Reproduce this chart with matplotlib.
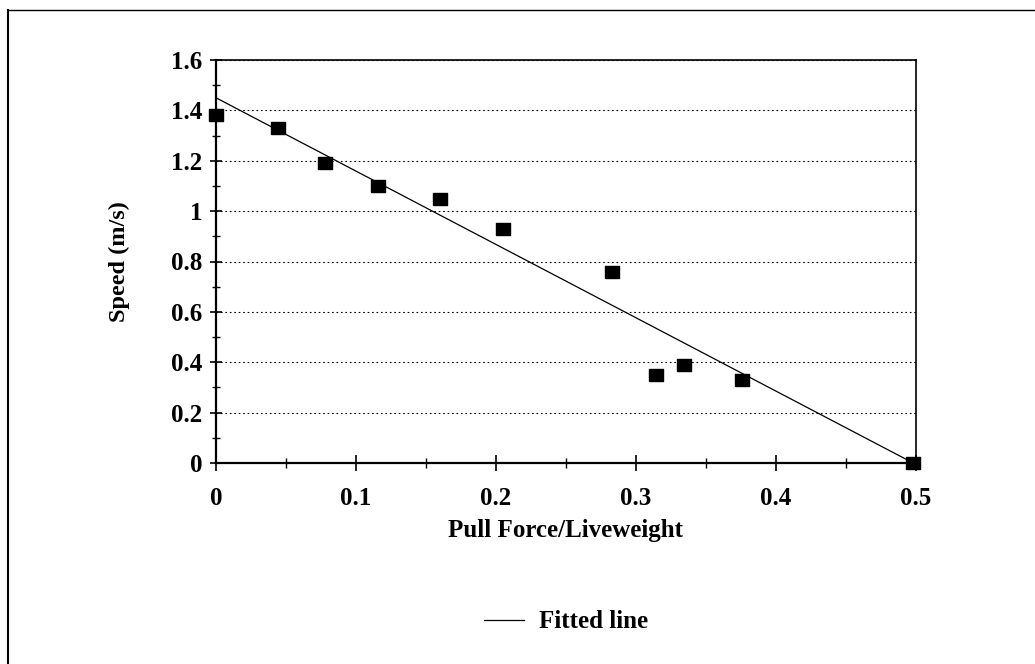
import matplotlib
matplotlib.use("Agg")
import matplotlib.pyplot as plt
from matplotlib.lines import Line2D
from matplotlib.ticker import MultipleLocator, FixedLocator

# Data
pull_force = [0.0, 0.044, 0.078, 0.116, 0.160, 0.205, 0.283, 0.314, 0.334, 0.376, 0.498]
speed = [1.38, 1.33, 1.19, 1.10, 1.05, 0.93, 0.76, 0.35, 0.39, 0.33, 0.0]
fit_x = [0.0, 0.498]
fit_y = [1.45, 0.0]
x_ticks = [0, 0.1, 0.2, 0.3, 0.4, 0.5]
x_tick_labels = ["0", "0.1", "0.2", "0.3", "0.4", "0.5"]
y_ticks = [0, 0.2, 0.4, 0.6, 0.8, 1.0, 1.2, 1.4, 1.6]
y_tick_labels = ["0", "0.2", "0.4", "0.6", "0.8", "1", "1.2", "1.4", "1.6"]

plt.rcParams['font.family'] = ['Liberation Serif', 'DejaVu Serif']
plt.rcParams['font.weight'] = 'bold'

fig = plt.figure(figsize=(10.35, 6.64), dpi=100)
ax = fig.add_axes([216/1035, 1-463/664, 700/1035, 403/664])

# outer frame
fig.add_artist(Line2D([8/1035, 8/1035], [0, 1-10/664], color='black', lw=1.5,
                      transform=fig.transFigure))
fig.add_artist(Line2D([8/1035, 1], [1-10/664, 1-10/664], color='black', lw=1.0,
                      transform=fig.transFigure))

rect = [(-1.3, -1), (1.3, -1), (1.3, 1), (-1.3, 1), (-1.3, -1)]
ax.plot(fit_x, fit_y, color='black', lw=0.9, label='Fitted line', zorder=3)
ax.plot(pull_force, speed, linestyle='none', marker=rect, ms=10.8,
        color='black', clip_on=False, zorder=4)

ax.set_xlim(0, 0.5)
ax.set_ylim(0, 1.6)
ax.xaxis.set_major_locator(FixedLocator(x_ticks))
ax.set_xticklabels(x_tick_labels)
ax.yaxis.set_major_locator(FixedLocator(y_ticks))
ax.set_yticklabels(y_tick_labels)
ax.xaxis.set_minor_locator(MultipleLocator(0.05))
ax.yaxis.set_minor_locator(MultipleLocator(0.1))

ax.tick_params(axis='x', which='major', direction='inout', length=11, width=1.2,
               labelsize=18, pad=12)
ax.tick_params(axis='x', which='minor', direction='inout', length=7, width=1.0)
ax.tick_params(axis='y', which='major', direction='inout', length=8, width=1.2,
               labelsize=18, pad=6)
ax.tick_params(axis='y', which='minor', direction='inout', length=6, width=1.0)
ax.tick_params(top=False, right=False, which='both')

for s in ['left', 'bottom']:
    ax.spines[s].set_linewidth(1.6)
for s in ['top', 'right']:
    ax.spines[s].set_linewidth(1.2)

ax.yaxis.grid(True, which='major', linestyle=(0, (1.5, 2.5)), color='black', lw=0.8)
ax.set_axisbelow(True)

ax.set_xlabel('Pull Force/Liveweight', fontsize=18, fontweight='bold', labelpad=6)
ax.set_ylabel('Speed (m/s)', fontsize=17.5, fontweight='bold', labelpad=29)

leg = fig.legend(loc='center', bbox_to_anchor=(566/1035, 1-622/664), frameon=False,
                 fontsize=18, handlelength=1.6, handletextpad=0.6)

fig.savefig('out.png', dpi=100, facecolor='white')
